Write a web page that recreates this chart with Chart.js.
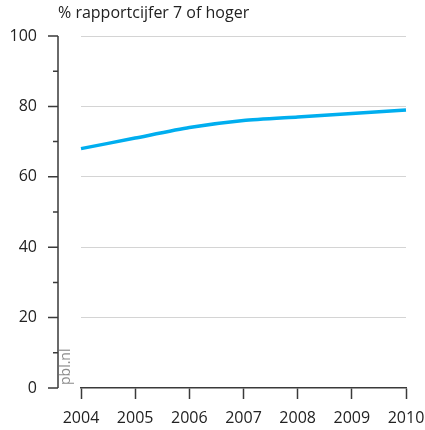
<!DOCTYPE html>
<html lang="nl">
<head>
<meta charset="UTF-8">
<title>% rapportcijfer 7 of hoger</title>
<script src="https://cdn.jsdelivr.net/npm/chart.js"></script>
<style>
  html, body { margin: 0; padding: 0; background: #fff; overflow: hidden; }
  canvas { display: block; }
</style>
</head>
<body>
<canvas id="chart" width="425" height="430"></canvas>
<script>
// data
const titleText = '% rapportcijfer 7 of hoger';
const years = ['2004', '2005', '2006', '2007', '2008', '2009', '2010'];
const share = [68, 71, 74, 76, 77, 78, 79];
const yTicks = [0, 20, 40, 60, 80, 100];
const yMinorTicks = [10, 30, 50, 70, 90];
const sourceText = 'pbl.nl';

const axisColor = '#3a3a3a';
const fontFamily = '"Open Sans", "Noto Sans", sans-serif';

// y axis sits to the left of the plot, detached from the x axis
const detachedAxis = {
  id: 'detachedAxis',
  afterDraw(chart) {
    const ctx = chart.ctx;
    const y = chart.scales.y;
    const area = chart.chartArea;
    const axisX = area.left - 23;
    ctx.save();
    ctx.strokeStyle = axisColor;
    ctx.lineWidth = 1.5;
    ctx.beginPath();
    ctx.moveTo(axisX, y.getPixelForValue(100));
    ctx.lineTo(axisX, y.getPixelForValue(0));
    yTicks.forEach(v => {
      const py = y.getPixelForValue(v);
      ctx.moveTo(axisX - 10, py);
      ctx.lineTo(axisX, py);
    });
    yMinorTicks.forEach(v => {
      const py = y.getPixelForValue(v);
      ctx.moveTo(axisX - 5, py);
      ctx.lineTo(axisX, py);
    });
    ctx.stroke();

    // title
    ctx.fillStyle = '#222';
    ctx.font = '16px ' + fontFamily;
    ctx.textAlign = 'left';
    ctx.textBaseline = 'alphabetic';
    ctx.fillText(titleText, axisX, 18);

    // source, rotated
    ctx.translate(area.left - 8, y.getPixelForValue(0) - 3);
    ctx.rotate(-Math.PI / 2);
    ctx.fillStyle = '#8c8c8c';
    ctx.font = '14px ' + fontFamily;
    ctx.textBaseline = 'bottom';
    ctx.fillText(sourceText, 0, 0);
    ctx.restore();
  }
};

const ctx = document.getElementById('chart').getContext('2d');
new Chart(ctx, {
  type: 'line',
  data: {
    labels: years,
    datasets: [{
      data: share,
      borderColor: '#00aeef',
      borderWidth: 3.5,
      pointRadius: 0,
      tension: 0.2,
      fill: false
    }]
  },
  options: {
    responsive: false,
    animation: false,
    layout: { padding: { top: 36, right: 19, bottom: 0, left: 0 } },
    plugins: {
      legend: { display: false },
      tooltip: { enabled: false }
    },
    scales: {
      x: {
        grid: {
          drawOnChartArea: false,
          tickLength: 11,
          tickColor: axisColor,
          tickWidth: 1.5
        },
        border: { color: axisColor, width: 1.5 },
        ticks: {
          color: '#222',
          padding: 10,
          maxRotation: 0,
          font: { family: fontFamily, size: 16 }
        },
        afterFit(scale) {
          scale.height = 42;
          scale.paddingLeft = 0;
          scale.paddingRight = 0;
        }
      },
      y: {
        min: 0,
        max: 100,
        grid: {
          drawTicks: false,
          color: ctx => ctx.tick && ctx.tick.value === 0 ? 'rgba(0,0,0,0)' : '#d4d4d4',
          lineWidth: 1
        },
        border: { display: false },
        ticks: {
          stepSize: 20,
          color: '#222',
          padding: 44,
          font: { family: fontFamily, size: 16 }
        },
        afterFit(scale) {
          scale.width = 81;
          scale.paddingTop = 0;
          scale.paddingBottom = 0;
        }
      }
    }
  },
  plugins: [detachedAxis]
});
</script>
</body>
</html>
